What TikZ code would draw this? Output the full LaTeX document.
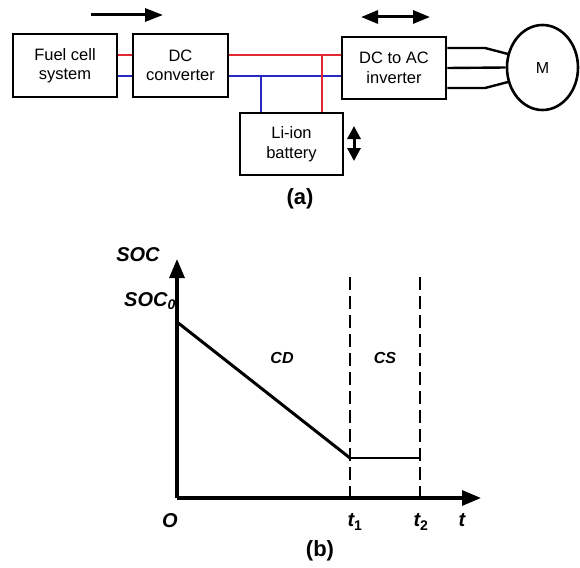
\documentclass[tikz,border=0pt]{standalone}
\usepackage{fontspec}
\setmainfont{Liberation Sans}
\usetikzlibrary{arrows.meta,shapes.geometric}
\begin{document}
\begin{tikzpicture}[x=1pt,y=-1pt,
  blk/.style={draw,line width=2.8pt,inner sep=0pt,font=\fontsize{16.5}{19.5}\selectfont,align=center},
  redw/.style={draw={rgb,255:red,225;green,40;blue,50},line width=2.6pt},
  bluew/.style={draw={rgb,255:red,40;green,40;blue,195},line width=2.6pt},
  wire/.style={line width=2.4pt},
  flow/.style={line width=3pt,-{Triangle[length=18pt,width=13pt]}},
  flow2/.style={line width=3pt,{Triangle[length=17pt,width=13pt]}-{Triangle[length=17pt,width=13pt]}},
  flow3/.style={line width=3pt,{Triangle[length=13pt,width=13pt]}-{Triangle[length=13pt,width=13pt]}},
  lab/.style={font=\bfseries\itshape\fontsize{16}{18}\selectfont},
  biglab/.style={font=\bfseries\itshape\fontsize{20}{22}\selectfont},
  captxt/.style={font=\bfseries\fontsize{22}{24}\selectfont},
  axis/.style={line width=3.2pt,-{Triangle[length=19pt,width=15pt]}},
  dsh/.style={line width=1.9pt,dash pattern=on 13pt off 6pt}]
\useasboundingbox (0,0) rectangle (580,567);
% blocks
\node[blk,minimum width=104pt,minimum height=63pt] (fc) at (65,65.5) {Fuel cell\\system};
\node[blk,minimum width=95pt,minimum height=63pt] (dc) at (180.5,65.5) {DC\\converter};
\node[blk,minimum width=104pt,minimum height=62pt] (inv) at (394,68) {DC to AC\\inverter};
\node[blk,minimum width=103pt,minimum height=62pt] (bat) at (291.5,144) {Li-ion\\battery};
\node[draw,line width=2.6pt,ellipse,minimum width=71pt,minimum height=85pt,inner sep=0pt,font=\fontsize{16}{18}\selectfont] (m) at (542.5,67.5) {M};
% bus wires
\draw[redw] (fc.east |- 0,55) -- (dc.west |- 0,55);
\draw[bluew] (fc.east |- 0,76) -- (dc.west |- 0,76);
\draw[redw] (dc.east |- 0,55) -- (inv.west |- 0,55);
\draw[bluew] (dc.east |- 0,76) -- (inv.west |- 0,76);
\coordinate (bj) at (261,76);
\coordinate (rj) at (322,55);
\draw[bluew] (bj) -- (bat.north -| bj);
\draw[redw] (rj) -- (bat.north -| rj);
% motor wires
\coordinate (w1) at (485,48);
\coordinate (w3) at (485,88);
\draw[wire] (inv.east |- w1) -- (w1) -- (508,54);
\draw[wire] (inv.east |- 0,68) -- (m.west);
\draw[wire] (inv.east |- w3) -- (w3) -- (508,82);
% power flow arrows
\coordinate (a1) at (91,15); \coordinate (a2) at (163,15);
\draw[flow] (a1) -- (a2);
\coordinate (b1) at (361,17); \coordinate (b2) at (430,17);
\draw[flow2] (b1) -- (b2);
\coordinate (c1) at (354,126); \coordinate (c2) at (354,161);
\draw[flow3] (c1) -- (c2);
\node[captxt] (la) at (300,199) {(a)};
% part b
\coordinate (O) at (177,498);
\coordinate (yend) at (177,259);
\coordinate (xend) at (481,498);
\draw[axis] (O) -- (yend);
\draw[axis] (O) -- (xend);
\coordinate (s0) at (177,322);
\coordinate (k1) at (350,458);
\coordinate (k2) at (420,458);
\draw[line width=3pt] (s0) -- (k1);
\draw[line width=2.6pt] (k1) -- (k2);
\coordinate (d1) at (350,277); \coordinate (d1b) at (350,500);
\coordinate (d2) at (420,277); \coordinate (d2b) at (420,500);
\draw[dsh] (d1) -- (d1b);
\draw[dsh] (d2) -- (d2b);
\node[biglab] (soc) at (138,255) {SOC};
\node[biglab] (soc0) at (150,301) {SOC\textsubscript{0}};
\node[lab] (cd) at (282,358) {CD};
\node[lab] (cs) at (385,358) {CS};
\node[biglab] (o) at (170,521) {O};
\node[biglab] (t1) at (355,522) {t\textsubscript{\upshape 1}};
\node[biglab] (t2) at (421,522) {t\textsubscript{\upshape 2}};
\node[biglab] (t) at (462,520) {t};
\node[captxt] (lb) at (320,551) {(b)};
\end{tikzpicture}
\end{document}
